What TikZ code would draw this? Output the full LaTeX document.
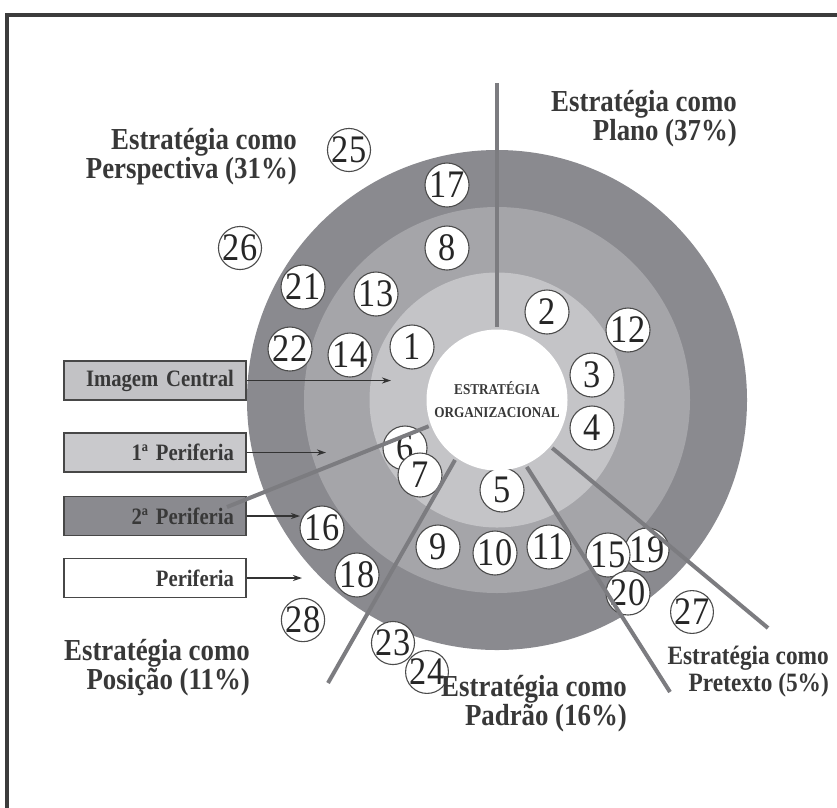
\documentclass[tikz,border=0pt]{standalone}
\usepackage{fontspec}
\setmainfont{Liberation Serif}
\newfontfamily\condserif[FakeStretch=0.88]{Liberation Serif}
\usetikzlibrary{arrows.meta}
\definecolor{ringout}{HTML}{8A8A8F}
\definecolor{ringmid}{HTML}{A5A5A9}
\definecolor{ringin}{HTML}{C4C4C7}
\definecolor{sepgray}{HTML}{7C7C80}
\definecolor{framegray}{HTML}{3C3C3C}
\definecolor{txtgray}{HTML}{383838}
\definecolor{boxlight}{HTML}{C2C2C5}
\definecolor{boxlighter}{HTML}{C9C9CC}
\definecolor{boxdark}{HTML}{8A8A8F}
\tikzset{
  ring/.style={circle, inner sep=0pt, draw=none},
  num/.style={circle, draw=black!70, line width=1.1pt, fill=white, inner sep=0pt,
    minimum size=44pt, font=\condserif\fontsize{39}{39}\selectfont, text=black!85},
  numout/.style={num, minimum size=41pt},
  seprule/.style={draw=sepgray, line width=4pt},
  legendbox/.style={draw=black!72, line width=1.8pt, minimum height=39pt,
    text width=158pt, inner xsep=12pt, inner ysep=0pt, align=right,
    font=\condserif\bfseries\fontsize{23.5}{23.5}\selectfont, text=txtgray},
  legendarrow/.style={draw=black!80, line width=1.3pt, -{Stealth[length=9pt,width=6pt]}},
  stratlabel/.style={align=right, inner sep=0pt, text=txtgray,
    font=\condserif\bfseries\fontsize{30.5}{29}\selectfont},
}
\begin{document}
\begin{tikzpicture}[x=1pt,y=-1pt]
\useasboundingbox (0,0) rectangle (837,807);
\clip (0,0) rectangle (837,807);
\fill[white] (0,0) rectangle (837,807);
% frame
\draw[draw=framegray, line width=4pt] (7,15) rectangle (860,830);

% rings
\coordinate (O) at (497,400);
\node[ring, fill=ringout, minimum size=500pt] (r2) at (O) {};
\node[ring, fill=ringmid, minimum size=386pt] (r1) at (O) {};
\node[ring, fill=ringin, minimum size=255pt] (r0) at (O) {};

% legend boxes
\node[legendbox, fill=boxlight] (bIC) at (155,380.5) {Imagem Central};
\node[legendbox, fill=boxlighter] (bP1) at (155,452.5) {1ª Periferia};
\node[legendbox, fill=boxdark] (bP2) at (155,516) {2ª Periferia};
\node[legendbox, fill=white] (bP) at (155,578) {Periferia};

% numbered circles
\node[num] (n17) at (447,185) {17};
\node[num] (n8) at (447,248) {8};
\node[num] (n13) at (376,294) {13};
\node[num] (n21) at (303,287) {21};
\node[num] (n22) at (290,349) {22};
\node[num] (n14) at (350,355) {14};
\node[num] (n1) at (412,347) {1};
\node[num] (n2) at (547,312) {2};
\node[num] (n12) at (628,330) {12};
\node[num] (n3) at (592,375) {3};
\node[num] (n4) at (592,428) {4};
\node[num] (n6) at (405,448) {6};
\node[num] (n7) at (420,475) {7};
\node[num] (n5) at (502,490) {5};
\node[num] (n9) at (438,547) {9};
\node[num] (n10) at (495,553) {10};
\node[num] (n11) at (549,547) {11};
\node[num] (n19) at (647,550) {19};
\node[num] (n15) at (608,555) {15};
\node[num] (n20) at (628,593) {20};
\node[num] (n16) at (322,528) {16};
\node[num] (n18) at (357,575) {18};
\node[numout] (n25) at (349,150) {25};
\node[numout] (n26) at (240,248) {26};
\node[numout] (n27) at (692,612) {27};
\node[numout] (n28) at (303,620) {28};
\node[num, minimum size=42pt] (n23) at (393,643) {23};
\node[num, minimum size=42pt] (n24) at (427,672) {24};

% separator lines
\node[circle, inner sep=0pt, minimum size=146pt] (core) at (O) {};
\coordinate (eTop) at (497,83);
\coordinate (eP2) at (227,507);
\coordinate (ePos) at (328,683);
\coordinate (ePad) at (670,692);
\coordinate (ePre) at (768,628);
\draw[seprule] (core.90) -- (eTop);
\draw[seprule] (core.201) -- (eP2);
\draw[seprule] (core.235) -- (ePos);
\draw[seprule] (core.294) -- (ePad);
\draw[seprule] (core.319) -- (ePre);

% centre
\node[circle, fill=white, inner sep=0pt, minimum size=141pt, align=center,
  font=\condserif\bfseries\fontsize{15}{23}\selectfont, text=txtgray] (centre) at (O)
  {ESTRATÉGIA\\ORGANIZACIONAL};

% legend arrows
\coordinate (aIC) at (391,380.5);
\coordinate (aP1) at (326,452.5);
\coordinate (aP2) at (300,516);
\coordinate (aP) at (302,578);
\draw[legendarrow] (bIC.east) -- (aIC);
\draw[legendarrow] (bP1.east) -- (aP1);
\draw[legendarrow] (bP2.east) -- (aP2);
\draw[legendarrow] (bP.east) -- (aP);

% strategy labels
\node[stratlabel, anchor=east] (lPlano) at (737,119) {Estratégia como\\Plano (37\%)};
\node[stratlabel, anchor=east] (lPersp) at (297,157) {Estratégia como\\Perspectiva (31\%)};
\node[stratlabel, anchor=east] (lPos) at (250,668) {Estratégia como\\Posição (11\%)};
\node[stratlabel, anchor=east] (lPad) at (627,704) {Estratégia como\\Padrão (16\%)};
\node[stratlabel, anchor=east, font=\condserif\bfseries\fontsize{26.5}{27}\selectfont] (lPre) at (829,672) {Estratégia como\\Pretexto (5\%)};
\end{tikzpicture}
\end{document}
